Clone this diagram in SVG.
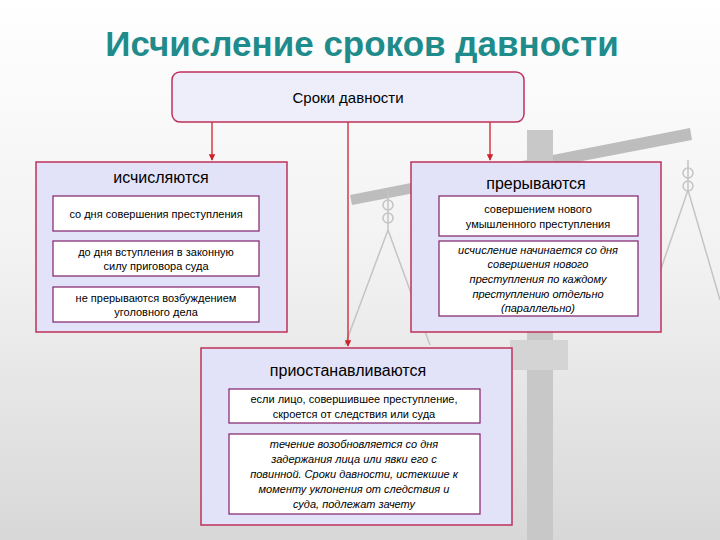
<svg xmlns="http://www.w3.org/2000/svg" width="720" height="540" viewBox="0 0 720 540">
<defs>
<linearGradient id="bg" x1="0" y1="0" x2="0" y2="1"><stop offset="0" stop-color="#ffffff"/><stop offset="0.5" stop-color="#f1f1f1"/><stop offset="1" stop-color="#d8d8d8"/></linearGradient>
<marker id="ar" viewBox="0 0 10 10" refX="9" refY="5" markerWidth="5" markerHeight="5" orient="auto"><path d="M0,0L10,5L0,10z" fill="#d0202a"/></marker>
</defs>
<style>
.t{font-family:"Liberation Sans",Arial,sans-serif;fill:#000;text-anchor:middle}
.s{font-size:11px}.i{font-style:italic}
.outer{fill:#e2e2f8;stroke:#c0305a;stroke-width:1.5}
.inner{fill:#fff;stroke:#80206a;stroke-width:1.2}
.c{stroke:#d0202a;stroke-width:1.3;fill:none;marker-end:url(#ar)}
.sc{fill:none;stroke:#c4c4c4;stroke-width:1.5}
</style>
<rect width="720" height="540" fill="url(#bg)"/>
<g id="scale">
<path d="M350,195 L690,128 L692,140 L352,205 Z" fill="#bdbdbd"/>
<rect x="527" y="130" width="26" height="410" fill="#c8c8c8"/>
<rect x="510" y="340" width="58" height="30" fill="#d4d4d4"/>
<path class="sc" d="M388,190 L388,230 M388,230 L345,345 M388,230 L430,345 M688,160 L688,190 M688,190 L640,330 M688,190 L720,300"/>
<circle cx="388" cy="205" r="5" class="sc"/><circle cx="388" cy="218" r="5" class="sc"/>
<circle cx="688" cy="173" r="5" class="sc"/><circle cx="688" cy="186" r="5" class="sc"/>
</g>
<text class="t" x="362" y="56" style="font-size:35px;font-weight:bold;fill:#1f8b8b">Исчисление сроков давности</text>
<g id="connectors">
<path class="c" d="M212,121 V160"/>
<path class="c" d="M490,121 V160"/>
<path class="c" d="M348,121 V346"/>
</g>
<g id="top"><rect x="172" y="72" width="352" height="50" rx="8" fill="#eeeefb" stroke="#c0305a" stroke-width="1.5"/>
<text class="t" x="348" y="103" style="font-size:15px">Сроки давности</text></g>
<g id="left"><rect class="outer" x="36" y="162" width="251" height="170"/>
<text class="t" x="161" y="183" style="font-size:16px">исчисляются</text>
<rect class="inner" x="53" y="196" width="206" height="35"/><text class="t s" x="156" y="218">со дня совершения преступления</text>
<rect class="inner" x="53" y="241" width="206" height="35"/><text class="t s" x="156" y="256">до дня вступления в законную</text><text class="t s" x="156" y="270">силу приговора суда</text>
<rect class="inner" x="53" y="287" width="206" height="35"/><text class="t s" x="156" y="302">не прерываются возбуждением</text><text class="t s" x="156" y="316">уголовного дела</text>
</g>
<g id="right"><rect class="outer" x="411" y="162" width="250" height="170"/>
<text class="t" x="536" y="189" style="font-size:16px">прерываются</text>
<rect class="inner" x="439" y="196" width="199" height="40"/><text class="t s" x="538" y="213">совершением нового</text><text class="t s" x="538" y="228">умышленного преступления</text>
<rect class="inner" x="439" y="241" width="199" height="75"/>
<text class="t s i" x="538" y="254">исчисление начинается со дня</text><text class="t s i" x="538" y="268">совершения нового</text><text class="t s i" x="538" y="283">преступления по каждому</text><text class="t s i" x="538" y="298">преступлению отдельно</text><text class="t s i" x="538" y="312">(параллельно)</text>
</g>
<g id="bottom"><rect class="outer" x="201" y="348" width="311" height="177"/>
<text class="t" x="348" y="376" style="font-size:16px">приостанавливаются</text>
<rect class="inner" x="229" y="389" width="251" height="34"/><text class="t s" x="354" y="403">если лицо, совершившее преступление,</text><text class="t s" x="354" y="418">скроется от следствия или суда</text>
<rect class="inner" x="229" y="434" width="251" height="80"/>
<text class="t s i" x="354" y="448">течение возобновляется со дня</text><text class="t s i" x="354" y="463">задержания лица или явки его с</text><text class="t s i" x="354" y="478">повинной. Сроки давности, истекшие к</text><text class="t s i" x="354" y="493">моменту уклонения от следствия и</text><text class="t s i" x="354" y="508">суда, подлежат зачету</text>
</g>
</svg>
